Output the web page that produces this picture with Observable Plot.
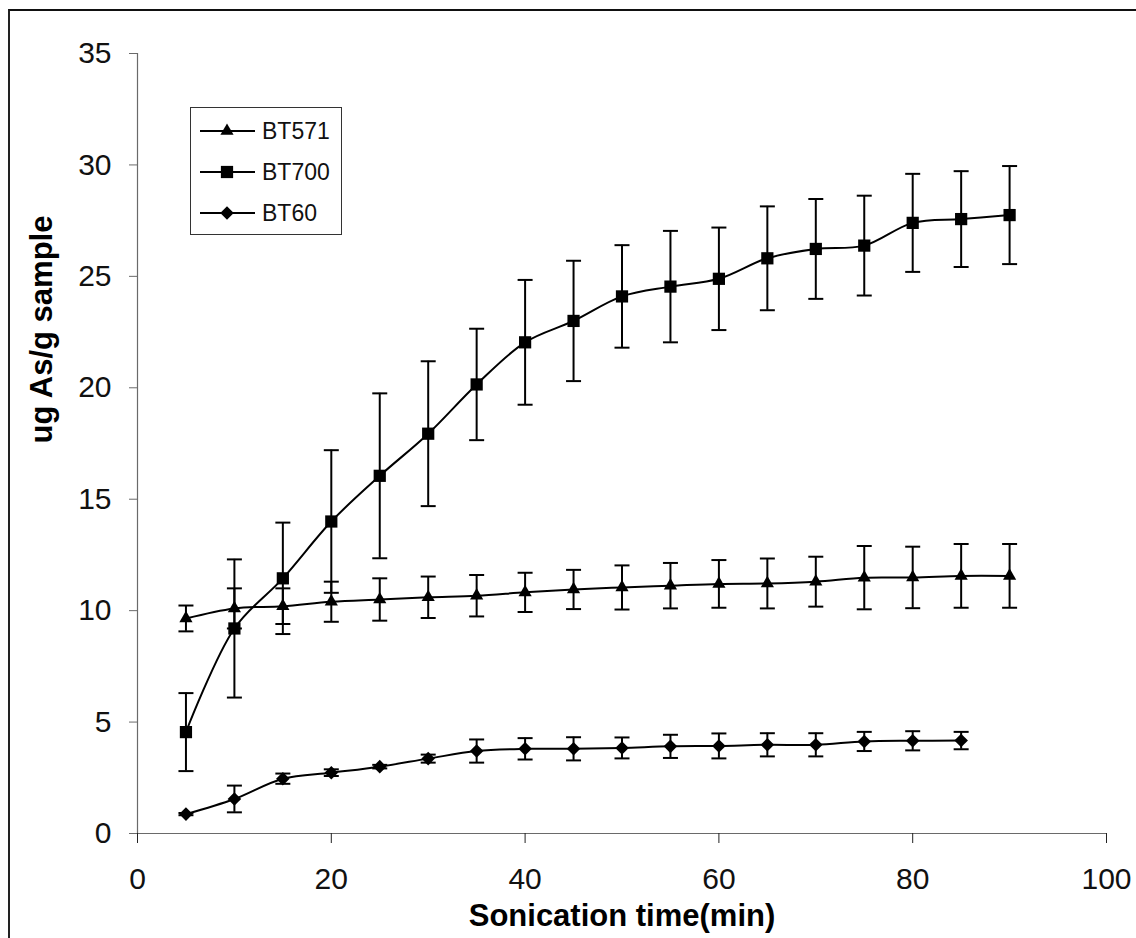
<!DOCTYPE html>
<html>
<head>
<meta charset="utf-8">
<script src="https://cdn.jsdelivr.net/npm/d3@7"></script>
<script src="https://cdn.jsdelivr.net/npm/@observablehq/plot@0.6"></script>
<style>
  html, body { margin: 0; padding: 0; background: #fff; }
  #wrap { position: relative; width: 1136px; height: 938px; overflow: hidden; font-family: "Liberation Sans", Arial, sans-serif; }
  #border { position: absolute; left: 8px; top: 9px; width: 3000px; height: 3000px; border-top: 2px solid #111; border-left: 2px solid #222; box-sizing: border-box; pointer-events: none; }
  #legend { position: absolute; left: 190px; top: 107px; }
  svg { display: block; }
</style>
</head>
<body>
<div id="wrap">
  <div id="chart"></div>
  <div id="border"></div>
  <div id="legend"></div>
</div>
<script>
// ---- data ----
const time = [5, 10, 15, 20, 25, 30, 35, 40, 45, 50, 55, 60, 65, 70, 75, 80, 85, 90];

const bt571 = [9.65, 10.1, 10.2, 10.4, 10.5, 10.6, 10.67, 10.82, 10.95, 11.04, 11.12, 11.2, 11.22, 11.3, 11.48, 11.49, 11.56, 11.56];
const bt571Err = [0.58, 0.9, 0.8, 0.9, 0.95, 0.93, 0.93, 0.88, 0.88, 0.99, 1.02, 1.07, 1.12, 1.12, 1.42, 1.38, 1.43, 1.43];

const bt700 = [4.55, 9.2, 11.45, 14.0, 16.05, 17.94, 20.15, 22.04, 23.0, 24.1, 24.54, 24.89, 25.81, 26.23, 26.38, 27.4, 27.57, 27.75];
const bt700Err = [1.75, 3.1, 2.5, 3.2, 3.7, 3.25, 2.5, 2.8, 2.7, 2.3, 2.5, 2.3, 2.33, 2.24, 2.24, 2.2, 2.15, 2.2];

const bt60 = [0.87, 1.55, 2.46, 2.73, 3.0, 3.36, 3.7, 3.8, 3.8, 3.84, 3.91, 3.93, 3.98, 3.98, 4.13, 4.16, 4.17];
const bt60Err = [0.05, 0.6, 0.23, 0.15, 0.08, 0.18, 0.52, 0.48, 0.52, 0.47, 0.52, 0.56, 0.52, 0.52, 0.43, 0.43, 0.39];

const seriesNames = ["BT571", "BT700", "BT60"];
const xTicks = [0, 20, 40, 60, 80, 100];
const yTicks = [0, 5, 10, 15, 20, 25, 30, 35];
const xTitle = "Sonication time(min)";
const yTitle = "ug As/g sample";

// ---- build table ----
const seriesData = {BT571: [bt571, bt571Err], BT700: [bt700, bt700Err], BT60: [bt60, bt60Err]};
const rows = seriesNames.flatMap(name => {
  const [vals, errs] = seriesData[name];
  return vals.map((v, i) => ({series: name, t: time[i], v, lo: v - errs[i], hi: v + errs[i]}));
});

// marker styles
const markerSymbol = {BT571: "triangle", BT700: "square", BT60: "diamond2"};
const markerR = {BT571: 4.9, BT700: 6.9, BT60: 6.1};

// custom cap symbol (horizontal line)
const cap = { draw(ctx) { ctx.moveTo(-7.5, 0); ctx.lineTo(7.5, 0); } };

const FONT = "'Liberation Sans', Arial, sans-serif";

const marks = [
  Plot.ruleX([0], {stroke: "#6a6a6a", strokeWidth: 1.2}),
  Plot.ruleY([0], {stroke: "#6a6a6a", strokeWidth: 1.2}),
  Plot.axisY({ticks: yTicks, tickSize: 8, tickPadding: 18, fontSize: 30, stroke: "#6a6a6a", fill: "#111", label: null}),
  Plot.axisX({ticks: xTicks, tickSize: 10, tickPadding: 24, fontSize: 30, stroke: "#222", fill: "#111", label: null}),
  Plot.ruleX(rows, {x: "t", y1: "lo", y2: "hi", stroke: "black", strokeWidth: 2}),
  Plot.dot(rows, {x: "t", y: "lo", symbol: cap, r: 1, fill: "none", stroke: "black", strokeWidth: 2}),
  Plot.dot(rows, {x: "t", y: "hi", symbol: cap, r: 1, fill: "none", stroke: "black", strokeWidth: 2}),
  Plot.line(rows, {x: "t", y: "v", z: "series", stroke: "black", strokeWidth: 2, curve: "catmull-rom"}),
  ...seriesNames.map(name => Plot.dot(rows.filter(d => d.series === name), {
    x: "t", y: "v", symbol: markerSymbol[name], r: markerR[name], fill: "black", stroke: "none"
  })),
  Plot.text([xTitle], {frameAnchor: "bottom", dy: 70, lineAnchor: "top", fontSize: 31, fontWeight: "bold", fill: "black"}),
  Plot.text([yTitle], {frameAnchor: "left", dx: -95, rotate: -90, fontSize: 31, fontWeight: "bold", fill: "black"})
];

const chart = Plot.plot({
  width: 1136,
  height: 938,
  marginLeft: 137,
  marginRight: 30,
  marginTop: 53,
  marginBottom: 105,
  x: {domain: [0, 100]},
  y: {domain: [0, 35]},
  style: {fontFamily: FONT, background: "white", color: "#111", overflow: "visible"},
  marks
});
document.getElementById("chart").appendChild(chart);

// ---- legend ----
const lw = 152, lh = 128;
const leg = d3.select("#legend").append("svg").attr("width", lw).attr("height", lh);
leg.append("rect").attr("x", 0.5).attr("y", 0.5).attr("width", lw - 1).attr("height", lh - 1)
  .attr("fill", "white").attr("stroke", "#333").attr("stroke-width", 1);
const symMap = {triangle: d3.symbolTriangle, square: d3.symbolSquare, diamond2: d3.symbolDiamond2};
seriesNames.forEach((name, i) => {
  const cy = 24 + i * 41;
  const g = leg.append("g");
  g.append("line").attr("x1", 10).attr("x2", 65).attr("y1", cy).attr("y2", cy).attr("stroke", "black").attr("stroke-width", 2);
  const r = markerR[name];
  g.append("path").attr("transform", `translate(37,${cy})`)
    .attr("d", d3.symbol(symMap[markerSymbol[name]], Math.PI * r * r)())
    .attr("fill", "black");
  g.append("text").attr("x", 72).attr("y", cy).attr("dy", "0.36em")
    .attr("font-family", FONT).attr("font-size", 23).attr("fill", "#111").text(name);
});
</script>
</body>
</html>
